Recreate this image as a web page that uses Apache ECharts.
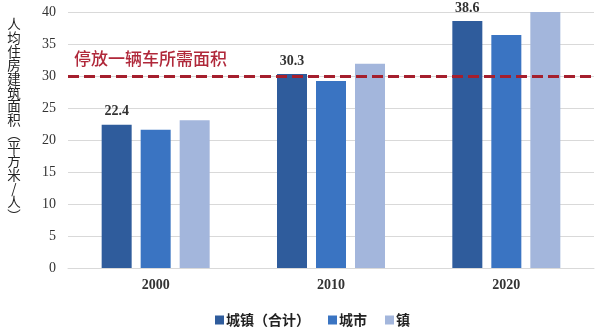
<!DOCTYPE html>
<html>
<head>
<meta charset="utf-8">
<script src="https://cdn.jsdelivr.net/npm/echarts@6/dist/echarts.min.js"></script>
<style>
  html, body { margin: 0; padding: 0; background: #fff; }
  #chart { width: 600px; height: 332px; }
</style>
</head>
<body>
<div id="chart"></div>
<script>
// Per-capita housing floor area, square metres per person
const years = ['2000', '2010', '2020'];
const urbanTotal = [22.4, 30.3, 38.6];
const cityArea = [21.6, 29.2, 36.4];
const townArea = [23.1, 31.9, 40];
const seriesNames = ['城镇（合计）', '城市', '镇'];
const parkingArea = 30;
const parkingLabel = '停放一辆车所需面积';
const yAxisTitle = '人均住房建筑面积︵平方米/人︶';

const serif = '"Liberation Serif", "Times New Roman", serif';
const cjk = '"Noto Sans CJK SC", sans-serif';
const colors = ['#2f5c9c', '#3a74c2', '#a3b6dc'];

const chart = echarts.init(document.getElementById('chart'));

function barSeries(name, values, color, withLabels) {
  return {
    name: name,
    type: 'bar',
    data: values,
    barWidth: 30,
    barGap: '30%',
    itemStyle: { color: color },
    label: {
      show: withLabels,
      position: 'top',
      distance: 6,
      fontFamily: serif,
      fontWeight: 'bold',
      fontSize: 14,
      color: '#333'
    }
  };
}

const series = [
  barSeries(seriesNames[0], urbanTotal, colors[0], true),
  barSeries(seriesNames[1], cityArea, colors[1], false),
  barSeries(seriesNames[2], townArea, colors[2], false)
];

// dashed reference line: floor area needed to park one car
series[0].markLine = {
  silent: true,
  symbol: ['none', 'none'],
  lineStyle: { color: '#a51f2d', width: 3, type: [11, 5] },
  label: {
    show: true,
    position: 'insideStartTop',
    formatter: parkingLabel,
    fontFamily: cjk,
    fontSize: 17,
    fontWeight: 500,
    color: '#b0283a',
    distance: [6, 9]
  },
  data: [{ yAxis: parkingArea }]
};

// vertical axis title: one text element per character, stacked top to bottom
const titleChars = yAxisTitle.split('');
const titleGraphics = titleChars.map((ch, i) => ({
  type: 'text',
  x: 14,
  y: 24 + i * 13.7,
  style: {
    text: ch,
    fontFamily: cjk,
    fontSize: 13.5,
    fill: '#222',
    align: 'center',
    verticalAlign: 'middle'
  }
}));

chart.setOption({
  animation: false,
  backgroundColor: '#fff',
  grid: { left: 68, right: 6, top: 12, bottom: 64 },
  legend: {
    data: seriesNames,
    left: 210,
    top: 308,
    itemWidth: 9,
    itemHeight: 9,
    itemGap: 18,
    icon: 'rect',
    textStyle: { fontFamily: cjk, fontWeight: 'bold', fontSize: 14, color: '#222', padding: [0, 0, 0, -3] }
  },
  xAxis: {
    type: 'category',
    data: years,
    axisLine: { show: true, lineStyle: { color: '#d9d9d9' } },
    axisTick: { show: false },
    axisLabel: { fontFamily: serif, fontWeight: 'bold', fontSize: 14, color: '#333', margin: 10 }
  },
  yAxis: {
    type: 'value',
    min: 0,
    max: 40,
    interval: 5,
    axisLine: { show: false },
    axisTick: { show: false },
    splitLine: { lineStyle: { color: '#d9d9d9', width: 1 } },
    axisLabel: { fontFamily: serif, fontSize: 14, color: '#333', margin: 12 }
  },
  graphic: titleGraphics,
  series: series
});
</script>
</body>
</html>
